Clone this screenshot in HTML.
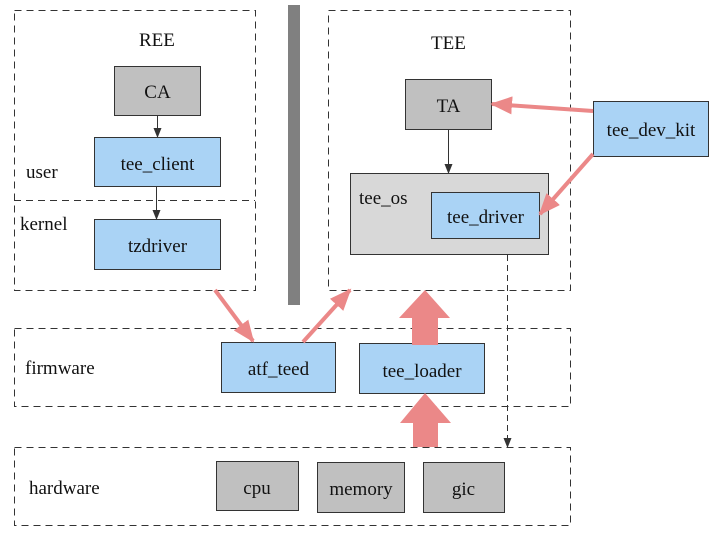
<!DOCTYPE html>
<html><head><meta charset="utf-8"><style>
html,body{margin:0;padding:0;background:#fff;}
svg{display:block;}
text{font-family:"Liberation Serif",serif;font-size:19px;fill:#111;}
</style></head><body>
<svg width="716" height="535" viewBox="0 0 716 535" xmlns="http://www.w3.org/2000/svg">
<defs>
<marker id="ah" markerWidth="10" markerHeight="10" refX="9" refY="5" orient="auto" markerUnits="userSpaceOnUse"><path d="M0,1 L10,5 L0,9 z" fill="#333"/></marker>
<marker id="ph" markerWidth="22" markerHeight="18" refX="20" refY="9" orient="auto" markerUnits="userSpaceOnUse"><path d="M0,0 L22,9 L0,18 z" fill="#eb8888"/></marker>
</defs>
<g fill="none" stroke="#333" stroke-width="1" stroke-dasharray="7,5">
<rect x="14.5" y="10.5" width="241" height="280"/>
<line x1="14" y1="200.5" x2="255" y2="200.5"/>
<rect x="328.5" y="10.5" width="242" height="280"/>
<rect x="14.5" y="328.5" width="556" height="78"/>
<rect x="14.5" y="447.5" width="556" height="78"/>
</g>
<rect x="288" y="5" width="12" height="300" fill="#808080"/>
<g stroke="#333" stroke-width="1">
<rect x="114.5" y="66.5" width="86" height="49" fill="#c0c0c0"/>
<rect x="94.5" y="137.5" width="126" height="49" fill="#aad3f5"/>
<rect x="94.5" y="219.5" width="126" height="50" fill="#aad3f5"/>
<rect x="405.5" y="79.5" width="86" height="50" fill="#c0c0c0"/>
<rect x="350.5" y="173.5" width="198" height="81" fill="#d8d8d8"/>
<rect x="431.5" y="192.5" width="108" height="46" fill="#aad3f5"/>
<rect x="593.5" y="101.5" width="115" height="55" fill="#aad3f5"/>
<rect x="221.5" y="342.5" width="114" height="50" fill="#aad3f5"/>
<rect x="359.5" y="343.5" width="125" height="50" fill="#aad3f5"/>
<rect x="216.5" y="461.5" width="82" height="49" fill="#c0c0c0"/>
<rect x="317.5" y="462.5" width="87" height="50" fill="#c0c0c0"/>
<rect x="423.5" y="462.5" width="81" height="50" fill="#c0c0c0"/>
</g>
<g stroke="#333" stroke-width="1" fill="none">
<line x1="157.5" y1="116" x2="157.5" y2="137" marker-end="url(#ah)"/>
<line x1="156.5" y1="187" x2="156.5" y2="219" marker-end="url(#ah)"/>
<line x1="448.5" y1="130" x2="448.5" y2="173" marker-end="url(#ah)"/>
<line x1="507.5" y1="255" x2="507.5" y2="447" stroke-dasharray="6,4" marker-end="url(#ah)"/>
</g>
<g stroke="#eb8888" stroke-width="4" fill="none">
<line x1="215" y1="290" x2="253" y2="341" marker-end="url(#ph)"/>
<line x1="303" y1="342" x2="350" y2="290" marker-end="url(#ph)"/>
<line x1="593" y1="111" x2="492" y2="104" marker-end="url(#ph)"/>
<line x1="593" y1="154" x2="540" y2="214" marker-end="url(#ph)"/>
</g>
<g fill="#eb8888">
<path d="M412,345 L438,345 L438,318 L450,318 L425,290 L399,318 L412,318 z"/>
<path d="M413,447 L438,447 L438,423 L451,423 L425,393 L400,423 L413,423 z"/>
</g>
<text x="139" y="46">REE</text>
<text x="431" y="49">TEE</text>
<text x="26" y="178">user</text>
<text x="20" y="230">kernel</text>
<text x="359" y="204">tee_os</text>
<text x="25" y="374">firmware</text>
<text x="29" y="494">hardware</text>
<g text-anchor="middle">
<text x="157.5" y="98">CA</text>
<text x="157.5" y="170">tee_client</text>
<text x="157.5" y="252">tzdriver</text>
<text x="448.5" y="112">TA</text>
<text x="485.5" y="223">tee_driver</text>
<text x="651" y="136">tee_dev_kit</text>
<text x="278.5" y="375">atf_teed</text>
<text x="422" y="377">tee_loader</text>
<text x="257" y="494">cpu</text>
<text x="361" y="495">memory</text>
<text x="463.5" y="495">gic</text>
</g>
</svg>
</body></html>
